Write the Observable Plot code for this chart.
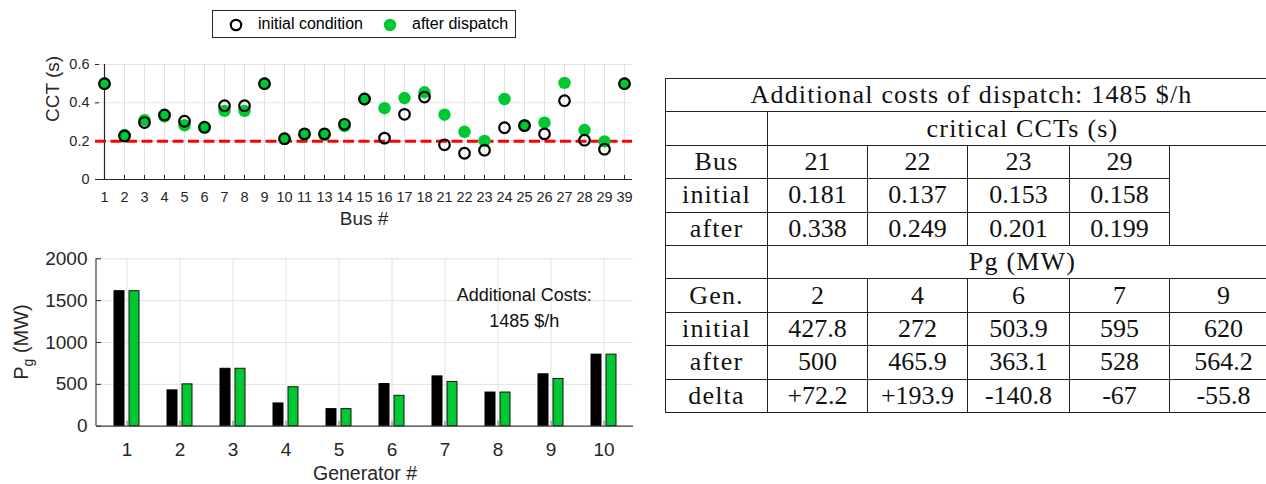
<!DOCTYPE html>
<html><head><meta charset="utf-8">
<script src="https://cdn.jsdelivr.net/npm/d3@7"></script>
<script src="https://cdn.jsdelivr.net/npm/@observablehq/plot@0.6"></script>
<style>
html,body{margin:0;padding:0;background:#fff;overflow:hidden;width:1266px;height:484px;}
#wrap{position:relative;width:1266px;height:484px;overflow:hidden;}
.abs{position:absolute;}
#legend{left:212px;top:10px;width:302px;height:26px;border:1px solid #262626;background:#fff;font-family:"Liberation Sans",Arial,sans-serif;font-size:16px;color:#000;}
#legend .it{position:absolute;top:0;height:26px;line-height:26px;white-space:nowrap;}
#table table{border-collapse:collapse;table-layout:fixed;width:612px;font-family:"Liberation Serif","Times New Roman",serif;font-size:26px;color:#111;}
#table td{border:1.3px solid #222;padding:0;height:32.4px;text-align:center;vertical-align:middle;white-space:nowrap;line-height:1;}
#table td.w{letter-spacing:1.2px;}
</style></head><body><div id="wrap">
<div id="top" class="abs" style="left:0;top:0"></div>
<div id="legend" class="abs"></div>
<div id="bottom" class="abs" style="left:0;top:240px"></div>
<div id="table" class="abs" style="left:665px;top:78px"></div>
</div>
<script>
// ---- top chart data (CCT per bus) ----
const buses = ["1","2","3","4","5","6","7","8","9","10","11","13","14","15","16","17","18","21","22","23","24","25","26","27","28","29","39"];
const cctInitial = [0.5,0.227,0.297,0.337,0.304,0.273,0.385,0.385,0.5,0.213,0.238,0.238,0.288,0.42,0.216,0.34,0.43,0.181,0.137,0.153,0.27,0.281,0.238,0.411,0.205,0.158,0.5];
const cctAfter   = [0.5,0.232,0.31,0.329,0.283,0.269,0.358,0.358,0.5,0.211,0.234,0.232,0.279,0.418,0.372,0.425,0.455,0.338,0.249,0.201,0.42,0.283,0.297,0.504,0.258,0.199,0.5];
const cctThreshold = [0.2];
const cctTicks = [0,0.2,0.4,0.6];
const legendLabels = ["initial condition","after dispatch"];

// ---- bottom chart data (Pg per generator) ----
const generators = [1,2,3,4,5,6,7,8,9,10];
const pgInitial = [1613,427.8,686,272,204,503.9,595,402,620,855];
const pgAfter   = [1613,500,686,465.9,204,363.1,528,402,564.2,855];
const pgTicks = [0,500,1000,1500,2000];
const costNote = ["Additional Costs:","1485 $/h"];

// ---- table data ----
const tableTitle = "Additional costs of dispatch: 1485 $/h";
const critTitle = "critical CCTs (s)";
const critBuses = ["21","22","23","29"];
const critInitial = ["0.181","0.137","0.153","0.158"];
const critAfter = ["0.338","0.249","0.201","0.199"];
const pgTitle = "Pg (MW)";
const dispGens = ["2","4","6","7","9"];
const dispInitial = ["427.8","272","503.9","595","620"];
const dispAfter = ["500","465.9","363.1","528","564.2"];
const dispDelta = ["+72.2","+193.9","-140.8","-67","-55.8"];

const GREEN = "#00c832";
const GRID = "#e2e2e2";
const AX = "#262626";
const SANS = "'Liberation Sans', Arial, Helvetica, sans-serif";

// ================= TOP CHART =================
const topData = buses.map((b,i)=>({bus:b, init:cctInitial[i], after:cctAfter[i]}));
const tW=660, tH=240, tML=95, tMR=28, tMT=64, tMB=61;
const topPlot = Plot.plot({
  width:tW, height:tH, marginLeft:tML, marginRight:tMR, marginTop:tMT, marginBottom:tMB,
  style:{fontFamily:SANS, fontSize:"14.5px", color:AX, background:"white", overflow:"visible"},
  x:{type:"point", domain:buses, padding:0, label:null},
  y:{domain:[0,0.6], label:null},
  marks:[
    Plot.ruleX(buses, {stroke:GRID, strokeWidth:1}),
    Plot.ruleY(cctTicks, {stroke:GRID, strokeWidth:1}),
    Plot.ruleY([0], {stroke:AX, strokeWidth:1.2}),
    Plot.ruleX([buses[0]], {stroke:AX, strokeWidth:1.2}),
    Plot.tickX(buses, {stroke:AX, insetTop:(tH-tMT-tMB)-4}),
    Plot.tickY(cctTicks, {stroke:AX, insetRight:(tW-tML-tMR)-4}),
    Plot.ruleY(cctThreshold, {stroke:"#ff0000", strokeWidth:3, strokeDasharray:"11,4.5"}),
    Plot.dot(topData, {x:"bus", y:"after", r:6.2, fill:GREEN, stroke:"none"}),
    Plot.dot(topData, {x:"bus", y:"init", r:5.3, fill:"none", stroke:"#000", strokeWidth:2.2}),
    Plot.axisX({ticks:buses, tickSize:0, tickPadding:12, label:null}),
    Plot.axisY({ticks:cctTicks, tickSize:0, tickPadding:6, label:null, tickFormat:d=>d===0?"0":d.toFixed(1)}),
    Plot.text(["Bus #"], {frameAnchor:"bottom", dy:39, fontSize:19, fill:AX, lineAnchor:"middle"}),
    Plot.text(["CCT (s)"], {frameAnchor:"left", dx:-42.5, rotate:-90, fontSize:19, fill:AX, lineAnchor:"middle"})
  ]
});
document.getElementById("top").appendChild(topPlot);

// legend
const leg = document.getElementById("legend");
leg.innerHTML =
  `<svg class="it" style="left:16px;top:7px;height:14px;width:14px" width="14" height="14"><circle cx="7" cy="7" r="5.2" fill="none" stroke="#000" stroke-width="2.2"/></svg>`+
  `<span class="it" style="left:45px">${legendLabels[0]}</span>`+
  `<svg class="it" style="left:170px;top:7px;height:14px;width:14px" width="14" height="14"><circle cx="7" cy="7" r="6.2" fill="${GREEN}"/></svg>`+
  `<span class="it" style="left:199px">${legendLabels[1]}</span>`;

// ================= BOTTOM CHART =================
const barData = generators.map((g,i)=>({gen:g, init:pgInitial[i], after:pgAfter[i]}));
const bW=660, bH=244, bML=96, bMR=27, bMT=18.3, bMB=58.3;
const fw = bW-bML-bMR, fh = bH-bMT-bMB;
const band = fw/generators.length;
const barW = 10.7, off = 7.5;
const ins = (band-barW)/2;
const botPlot = Plot.plot({
  width:bW, height:bH, marginLeft:bML, marginRight:bMR, marginTop:bMT, marginBottom:bMB,
  style:{fontFamily:SANS, fontSize:"19px", color:AX, background:"white", overflow:"visible"},
  x:{type:"band", domain:generators, padding:0, label:null},
  y:{domain:[0,2000], label:null},
  marks:[
    Plot.tickX(generators, {stroke:GRID, strokeWidth:1}),
    Plot.ruleY(pgTicks, {stroke:GRID, strokeWidth:1}),
    Plot.barY(barData, {x:"gen", y:"init", fill:"#000", stroke:"#000", strokeWidth:1, insetLeft:ins, insetRight:ins, dx:-off}),
    Plot.barY(barData, {x:"gen", y:"after", fill:GREEN, stroke:"#111", strokeWidth:1, insetLeft:ins, insetRight:ins, dx:off}),
    Plot.tickX(generators, {stroke:"#777", insetTop:fh-5}),
    Plot.tickY(pgTicks, {stroke:AX, insetRight:fw-5}),
    Plot.ruleY([0], {stroke:"#404040", strokeWidth:1.2}),
    Plot.axisX({tickSize:0, tickPadding:16, label:null}),
    Plot.axisY({ticks:pgTicks, tickSize:0, tickPadding:9, label:null, tickFormat:d=>String(d)}),
    Plot.text(["Generator #"], {frameAnchor:"bottom", dy:47.5, fontSize:19.5, fill:AX, lineAnchor:"middle"}),
    Plot.text([costNote.join("\n")], {frameAnchor:"top-right", dx:-109.3, dy:23.4, fontSize:18, fill:"#111", lineAnchor:"top", textAnchor:"middle", lineHeight:1.45})
  ]
});
// left axis line
d3.select(botPlot).append("line")
  .attr("x1",bML).attr("x2",bML).attr("y1",bMT).attr("y2",bH-bMB)
  .attr("stroke","#404040").attr("stroke-width",1.2);
// y label with subscript
const yl = d3.select(botPlot).append("text")
  .attr("transform",`translate(28,${bMT+fh/2}) rotate(-90)`)
  .attr("text-anchor","middle").attr("font-family",SANS).attr("font-size",20).attr("fill",AX);
yl.append("tspan").text("P");
yl.append("tspan").attr("font-size",14).attr("dy",5).text("g");
yl.append("tspan").attr("dy",-5).text(" (MW)");
document.getElementById("bottom").appendChild(botPlot);

// ================= TABLE =================
function row(cells){ return "<tr>"+cells.join("")+"</tr>"; }
const td = (t,cls="",extra="") => `<td class="${cls}" ${extra}>${t}</td>`;
let html = `<table><colgroup><col style="width:102px"><col style="width:100px"><col style="width:100px"><col style="width:102px"><col style="width:100px"><col style="width:108px"></colgroup>`;
html += row([td(tableTitle,"w",'colspan="6"')]);
html += row([td(""), td(critTitle,"w",'colspan="5"')]);
html += row([td("Bus","w"), ...critBuses.map(v=>td(v)), td("","",'rowspan="3"')]);
html += row([td("initial","w"), ...critInitial.map(v=>td(v))]);
html += row([td("after","w"), ...critAfter.map(v=>td(v))]);
html += row([td(""), td(pgTitle,"w",'colspan="5"')]);
html += row([td("Gen.","w"), ...dispGens.map(v=>td(v))]);
html += row([td("initial","w"), ...dispInitial.map(v=>td(v))]);
html += row([td("after","w"), ...dispAfter.map(v=>td(v))]);
html += row([td("delta","w"), ...dispDelta.map(v=>td(v))]);
html += "</table>";
document.getElementById("table").innerHTML = html;
</script>
</body></html>
